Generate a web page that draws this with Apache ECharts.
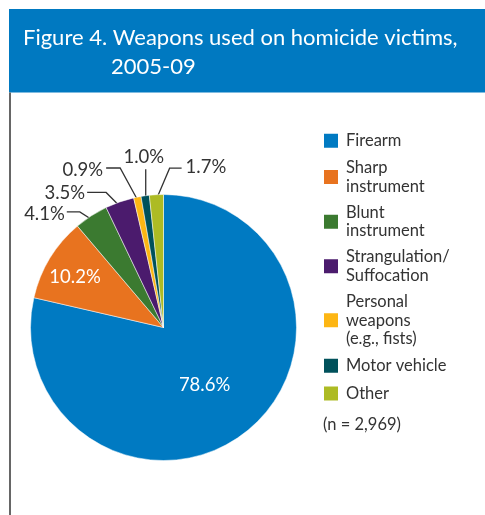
<!DOCTYPE html>
<html>
<head>
<meta charset="utf-8">
<script src="https://cdn.jsdelivr.net/npm/echarts@6/dist/echarts.min.js"></script>
<style>
  html, body { margin: 0; padding: 0; background: #ffffff; }
  #chart { width: 485px; height: 515px; }
</style>
</head>
<body>
<div id="chart"></div>
<script>
// ---- data ----
const titleLines = ['Figure 4. Weapons used on homicide victims,', '2005-09'];
const categories = [
  'Firearm',
  'Sharp\ninstrument',
  'Blunt\ninstrument',
  'Strangulation/\nSuffocation',
  'Personal\nweapons\n(e.g., fists)',
  'Motor vehicle',
  'Other'
];
const shares = [78.6, 10.2, 4.1, 3.5, 0.9, 1.0, 1.7];
const sampleNote = '(n = 2,969)';

// ---- styling ----
const FONT = 'Lato';
const TEXT_DARK = '#333333';
const BANNER_BLUE = '#0079c1';
const sliceColors = ['#007ac2', '#e8731f', '#3b7a30', '#4b1b6d', '#fdb614', '#00515b', '#adbb24'];
const PIE_CENTER = [163.5, 327.5];
const PIE_RADIUS = 133;
const LEGEND_LINE = 18.5;

// Where each slice's percentage goes. Inside labels sit at a fraction of the
// radius on the slice's mid-angle; outside labels hang from a leader line that
// starts inside the slice, bends, then runs sideways to the text.
const labelGuides = [
  { inside: 0.52, nudge: [-2, 3] },
  { inside: 0.77, nudge: [-1, 3] },
  { rho: 0.95, bend: [-15, -9.5], run: -13, align: 'right', gap: [-2, 2] },
  { rho: 0.95, bend: [-15.7, -15.8], run: -19, align: 'right', gap: [-2, 0.5] },
  { rho: 0.97, bend: [-18, -33], run: -14, align: 'right', gap: [-3, 2] },
  { rho: 0.97, bend: [0, -30.5], run: 0, align: 'center', gap: [-2, -12] },
  { rho: 0.97, bend: [13, -30.5], run: 12, align: 'left', gap: [4, -1] }
];

// mid-angle of every slice, clockwise from 12 o'clock
const total = shares.reduce((a, b) => a + b, 0);
const midAngles = [];
let running = 0;
shares.forEach(v => {
  midAngles.push((running + v / 2) / total * 2 * Math.PI);
  running += v;
});
function polar(angle, rho) {
  return [
    PIE_CENTER[0] + rho * PIE_RADIUS * Math.sin(angle),
    PIE_CENTER[1] - rho * PIE_RADIUS * Math.cos(angle)
  ];
}

const pieData = categories.map((name, i) => {
  const g = labelGuides[i];
  const inside = g.inside != null;
  return {
    name: name,
    value: shares[i],
    itemStyle: { color: sliceColors[i] },
    label: {
      position: inside ? 'inside' : 'outside',
      color: inside ? '#ffffff' : TEXT_DARK
    },
    labelLine: { show: !inside }
  };
});

const chart = echarts.init(document.getElementById('chart'), null, { renderer: 'canvas' });

chart.setOption({
  animation: false,
  backgroundColor: '#ffffff',
  title: {
    left: 23,
    top: 23.5,
    padding: 0,
    text: '{a|' + titleLines[0] + '}\n{b|' + titleLines[1] + '}',
    textStyle: {
      rich: {
        a: { fontFamily: FONT, fontSize: 22, fontWeight: 'normal', color: '#ffffff', lineHeight: 29 },
        b: { fontFamily: FONT, fontSize: 22, fontWeight: 'normal', color: '#ffffff', lineHeight: 29, padding: [0, 0, 0, 88] }
      }
    },
    z: 10
  },
  graphic: [
    {
      type: 'rect', z: 0,
      shape: { x: 9, y: 9, width: 476, height: 83.5 },
      style: { fill: BANNER_BLUE }
    },
    {
      type: 'line', z: 0,
      shape: { x1: 10, y1: 92.5, x2: 10, y2: 515 },
      style: { stroke: '#666666', lineWidth: 2 }
    },
    {
      type: 'text', z: 5,
      x: 323, y: 425,
      style: {
        text: sampleNote,
        fontFamily: FONT, fontSize: 16.5, fill: TEXT_DARK,
        verticalAlign: 'middle', align: 'left'
      }
    }
  ],
  legend: {
    orient: 'vertical',
    left: 322,
    top: 131.5,
    padding: 0,
    itemGap: 9.2,
    itemWidth: 16,
    itemHeight: 16,
    icon: 'rect',
    selectedMode: false,
    textStyle: {
      fontFamily: FONT, fontSize: 16.5, color: TEXT_DARK, lineHeight: LEGEND_LINE
    },
    // keep each swatch level with the first line of its (possibly wrapped) name
    data: categories.map(name => {
      const extra = name.split('\n').length - 1;
      return { name: name, textStyle: { padding: [0, 0, -extra * LEGEND_LINE, 2] } };
    })
  },
  series: [{
    type: 'pie',
    center: PIE_CENTER,
    radius: PIE_RADIUS,
    startAngle: 90,
    clockwise: true,
    avoidLabelOverlap: false,
    itemStyle: { borderColor: '#ffffff', borderWidth: 0.5 },
    label: {
      fontFamily: FONT,
      fontSize: 18.5,
      formatter: p => p.value.toFixed(1) + '%'
    },
    labelLine: {
      lineStyle: { color: TEXT_DARK, width: 1.3 }
    },
    emphasis: { disabled: true },
    labelLayout: function (p) {
      const g = labelGuides[p.dataIndex];
      const a = midAngles[p.dataIndex];
      if (g.inside != null) {
        const pt = polar(a, g.inside);
        return { x: pt[0] + g.nudge[0], y: pt[1] + g.nudge[1], align: 'center', verticalAlign: 'middle' };
      }
      const s = polar(a, g.rho);
      const bend = [s[0] + g.bend[0], s[1] + g.bend[1]];
      const end = [bend[0] + g.run, bend[1]];
      return {
        x: end[0] + g.gap[0],
        y: end[1] + g.gap[1],
        align: g.align,
        verticalAlign: 'middle',
        labelLinePoints: [s, bend, end]
      };
    },
    data: pieData
  }]
});
</script>
</body>
</html>
